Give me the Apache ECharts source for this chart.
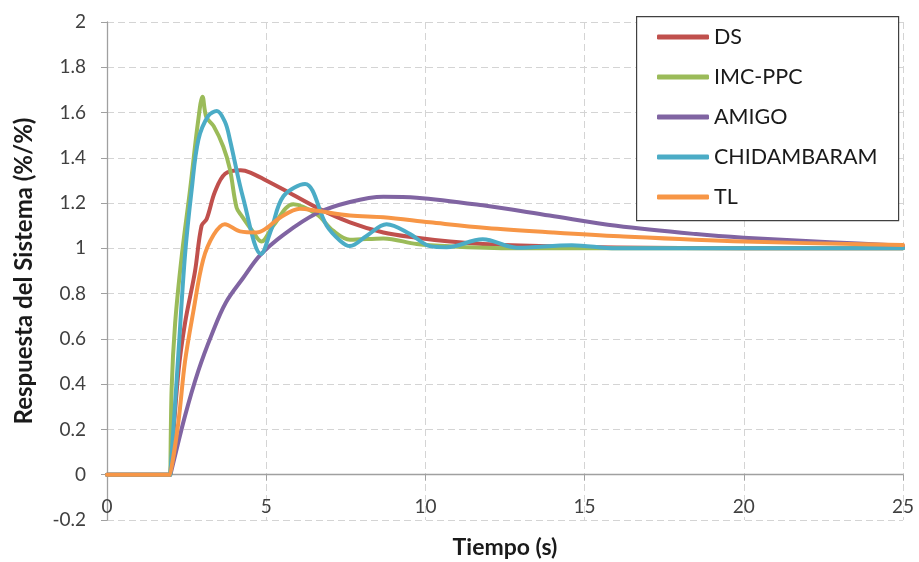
<!DOCTYPE html>
<html>
<head>
<meta charset="utf-8">
<title>Respuesta del Sistema</title>
<script src="https://cdn.jsdelivr.net/npm/echarts@6/dist/echarts.min.js"></script>
<style>
  html, body { margin: 0; padding: 0; background: #ffffff; }
  #chart { width: 919px; height: 562px; }
</style>
</head>
<body>
<div id="chart"></div>
<script>
// Step responses of the closed loop for each tuning method (time in s, response in %/%)
const seriesNames = ['DS', 'IMC-PPC', 'AMIGO', 'CHIDAMBARAM', 'TL'];

const dsTime = [0, 1.99, 2, 2.24, 2.45, 2.76, 2.97, 3.13, 3.39, 3.71, 4.2, 4.5, 5.0, 5.54, 6.59, 7.63, 8.68, 9.73, 10.77, 11.8, 13.9, 16, 20, 25];
const dsValue = [0, 0, 0, 0.45, 0.67, 0.895, 1.10, 1.13, 1.25, 1.33, 1.345, 1.335, 1.30, 1.26, 1.18, 1.115, 1.07, 1.047, 1.03, 1.019, 1.009, 1.004, 1.0, 1.0];

const imcTime = [0, 1.99, 2, 2.03, 2.14, 2.35, 2.61, 2.86, 3.0, 3.12, 3.35, 3.65, 3.86, 4.07, 4.23, 4.55, 4.85, 5.22, 5.85, 6.59, 7.1, 7.63, 8.68, 9.73, 10.77, 13, 25];
const imcValue = [0, 0, 0, 0.38, 0.67, 0.97, 1.26, 1.56, 1.67, 1.58, 1.54, 1.45, 1.35, 1.18, 1.144, 1.08, 1.03, 1.10, 1.195, 1.15, 1.078, 1.038, 1.044, 1.019, 1.009, 1.0, 1.0];

const amigoTime = [0, 1.99, 2, 2.45, 2.87, 3.29, 3.73, 4.28, 4.81, 5.54, 6.59, 7.63, 8.68, 9.73, 11.8, 13.9, 16, 18.5, 20, 22.7, 25];
const amigoValue = [0, 0, 0, 0.26, 0.46, 0.62, 0.76, 0.87, 0.97, 1.06, 1.155, 1.205, 1.228, 1.224, 1.19, 1.145, 1.10, 1.063, 1.047, 1.027, 1.012];

const chiTime = [0, 1.99, 2, 2.24, 2.45, 2.66, 2.87, 3.18, 3.45, 3.71, 3.86, 4.28, 4.84, 5.15, 5.54, 6.22, 6.9, 7.32, 7.63, 8.15, 8.78, 9.52, 10.14, 10.67, 11.8, 12.87, 14.6, 16, 25];
const chiValue = [0, 0, 0, 0.53, 0.97, 1.26, 1.48, 1.585, 1.607, 1.557, 1.48, 1.22, 0.975, 1.08, 1.23, 1.284, 1.10, 1.034, 1.01, 1.055, 1.107, 1.063, 1.01, 1.005, 1.04, 1.003, 1.014, 1.0, 1.0];

const tlTime = [0, 1.99, 2, 2.24, 2.45, 2.71, 3.02, 3.35, 3.7, 4.18, 4.7, 5.02, 5.43, 6.06, 6.59, 7.63, 8.68, 10.14, 11.92, 14.0, 16.1, 20, 25];
const tlValue = [0, 0, 0, 0.23, 0.5, 0.72, 0.95, 1.06, 1.107, 1.075, 1.07, 1.09, 1.135, 1.175, 1.166, 1.145, 1.137, 1.115, 1.09, 1.07, 1.053, 1.03, 1.015];

const xTicks = { min: 0, max: 25, interval: 5 };
const yTicks = { min: -0.2, max: 2, interval: 0.2 };

const colors = ['#C0504D', '#9BBB59', '#8064A2', '#4BACC6', '#F79646'];

function pairs(t, v) { return t.map((x, i) => [x, v[i]]); }

const seriesData = [
  pairs(dsTime, dsValue),
  pairs(imcTime, imcValue),
  pairs(amigoTime, amigoValue),
  pairs(chiTime, chiValue),
  pairs(tlTime, tlValue)
];

const FONT = 'Lato, "Open Sans", sans-serif';
const gridDash = { color: '#d4d4d4', type: [7, 4], width: 1 };

const chart = echarts.init(document.getElementById('chart'), null, { renderer: 'canvas' });
chart.setOption({
  animation: false,
  backgroundColor: '#ffffff',
  textStyle: { fontFamily: FONT },
  grid: { left: 107, right: 16, top: 22, bottom: 42, containLabel: false, outerBoundsMode: 'none' },
  xAxis: {
    type: 'value',
    min: xTicks.min, max: xTicks.max, interval: xTicks.interval,
    name: 'Tiempo (s)',
    nameLocation: 'middle',
    nameGap: 16,
    nameMoveOverlap: false,
    nameTextStyle: { fontFamily: FONT, fontSize: 23, fontWeight: 'bold', color: '#1a1a1a' },
    axisLine: { onZero: true, lineStyle: { color: '#a0a0a0', width: 1.3 } },
    axisTick: { show: true, length: 6, lineStyle: { color: '#a0a0a0' } },
    axisLabel: { fontFamily: FONT, fontSize: 19, color: '#404040', margin: -23 },
    splitLine: { show: true, lineStyle: gridDash }
  },
  yAxis: {
    type: 'value',
    min: yTicks.min, max: yTicks.max, interval: yTicks.interval,
    name: 'Respuesta del Sistema (%/%)',
    nameLocation: 'middle',
    nameRotate: 90,
    nameGap: 71,
    nameMoveOverlap: false,
    nameTextStyle: { fontFamily: FONT, fontSize: 24, fontWeight: 'bold', color: '#1a1a1a' },
    axisLine: { show: true, onZero: false, lineStyle: { color: '#a0a0a0', width: 1.3 } },
    axisTick: { show: true, length: 6, lineStyle: { color: '#a0a0a0' } },
    axisLabel: {
      fontFamily: FONT, fontSize: 19, color: '#404040', margin: 21,
      formatter: v => String(Math.round(v * 10) / 10)
    },
    splitLine: { show: true, lineStyle: gridDash }
  },
  graphic: [{
    type: 'rect',
    left: 636, top: 16, z: 3,
    shape: { width: 262, height: 204 },
    style: { fill: '#ffffff', stroke: '#404040', lineWidth: 1.2 }
  }],
  legend: {
    orient: 'vertical',
    left: 636, top: 16, z: 4,
    padding: [9, 10, 10, 21],
    itemWidth: 52, itemHeight: 5, itemGap: 16,
    icon: 'roundRect',
    textStyle: { fontFamily: FONT, fontSize: 21.5, color: '#1a1a1a', lineHeight: 24 },
    data: seriesNames
  },
  series: seriesNames.map((name, i) => ({
    name: name,
    type: 'line',
    data: seriesData[i],
    smooth: 0.35,
    showSymbol: false,
    symbol: 'none',
    color: colors[i],
    lineStyle: { width: 4, color: colors[i], cap: 'round', join: 'round' },
    z: 2
  }))
});
</script>
</body>
</html>
